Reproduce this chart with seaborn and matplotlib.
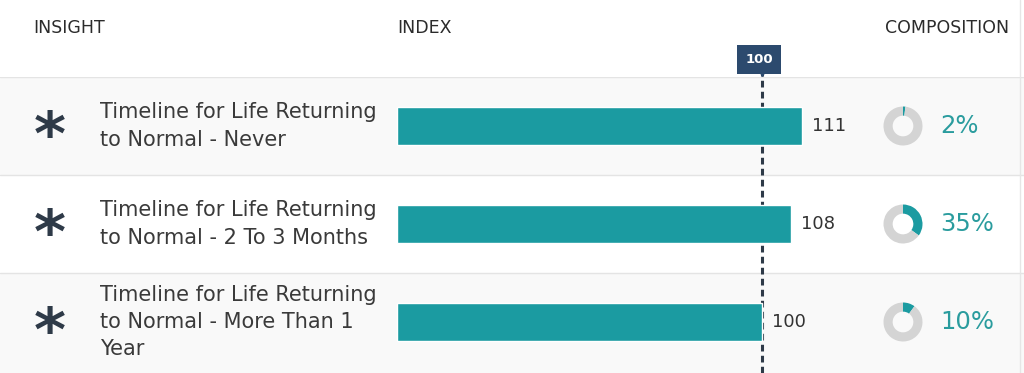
import numpy as np
import pandas as pd
import seaborn as sns
import matplotlib.pyplot as plt
import matplotlib.transforms as mtransforms
from matplotlib.lines import Line2D

# data
insights = [
    "Timeline for Life Returning\nto Normal - Never",
    "Timeline for Life Returning\nto Normal - 2 To 3 Months",
    "Timeline for Life Returning\nto Normal - More Than 1\nYear",
]
index_values = [111, 108, 100]
composition = [2, 35, 10]
baseline = 100
headers = ["INSIGHT", "INDEX", "COMPOSITION"]

teal = "#1b9ba1"
teal_text = "#2a9c9e"
navy = "#2c4a6e"
dark = "#2e3a48"
text_col = "#333333"

sns.set_theme(style="white")
plt.rcParams["font.family"] = ["DejaVu Sans"]

W, H = 1024, 373
fig = plt.figure(figsize=(W / 100, H / 100), dpi=100)

top_px = 77
ax = fig.add_axes([0, 0, 1, (H - top_px) / H])
df = pd.DataFrame({"insight": insights, "index": index_values})
sns.barplot(data=df, x="index", y="insight", color=teal, width=0.38,
            saturation=1, ax=ax, zorder=3)

# pixel-ish scale: index 0 sits at x=397px, 3.65px per unit
x0, ppu = 397, 3.65
ax.set_xlim(-x0 / ppu, (W - x0) / ppu)
band = 98
nb = (H - top_px) / band
ax.set_ylim(nb - 0.5, -0.5)
ax.set_axis_off()

# row backgrounds and separators
for i in range(len(insights)):
    if i % 2 == 0:
        lo = i + 0.5 if i < len(insights) - 1 else nb - 0.5
        ax.axhspan(i - 0.5, lo, color="#f9f9f9", zorder=0, lw=0)
    ax.axhline(i - 0.5, color="#e4e4e4", lw=1, zorder=1)

# baseline marker
xt = ax.get_xaxis_transform()
ax.axvline(baseline, ymin=0, ymax=1 + 5 / (H - top_px), color=dark, lw=2.2,
           ls=(0, (2.2, 1.4)), zorder=2, clip_on=False)
ax.text(baseline - 0.8, (H - 59.5) / (H - top_px), str(baseline), transform=xt,
        ha="center", va="center", color="white", fontsize=9.5, weight="bold",
        bbox=dict(boxstyle="square,pad=0.6", fc=navy, ec="none"), clip_on=False)
ax.plot([baseline], [(H - 73) / (H - top_px)], marker="v", ms=5, color=navy,
        transform=xt, clip_on=False, zorder=5)

ax.bar_label(ax.containers[0], padding=7, fontsize=13, color=text_col)

# headers
for name, xpx in zip(headers, [33, 397, 885]):
    fig.text(xpx / W, 1 - 28 / H, name, va="center", ha="left", fontsize=12.5,
             color="#2b2b2b")

# insight labels, asterisks, donuts, percentages
yt = mtransforms.blended_transform_factory(fig.transFigure, ax.transData)
star_t = mtransforms.offset_copy(yt, fig=fig, y=-12, units="dots")
r = 19.5
for i, (label, pct) in enumerate(zip(insights, composition)):
    ax.text(50 / W, i, "*", transform=star_t, ha="center", va="center",
            fontsize=44, weight="bold", color=dark)
    ax.text(100 / W, i, label, transform=yt, ha="left", va="center",
            fontsize=15, linespacing=1.45, color="#3a3a3a")
    ax.text(940 / W, i, f"{pct}%", transform=yt, ha="left", va="center",
            fontsize=17.5, color=teal_text)
    py = ax.transData.transform((0, i))[1]
    dax = fig.add_axes([(903 - r) / W, (py - r) / H, 2 * r / W, 2 * r / H])
    dax.pie([pct, 100 - pct], colors=[teal, "#d4d4d4"], startangle=90,
            counterclock=False, wedgeprops=dict(width=0.47, lw=0))
    dax.set_xlim(-1, 1)
    dax.set_ylim(-1, 1)
    dax.set_aspect("equal")

fig.add_artist(Line2D([1020 / W] * 2, [0, 1], color="#e6e6e6", lw=1))

fig.savefig("out.png", dpi=100)
